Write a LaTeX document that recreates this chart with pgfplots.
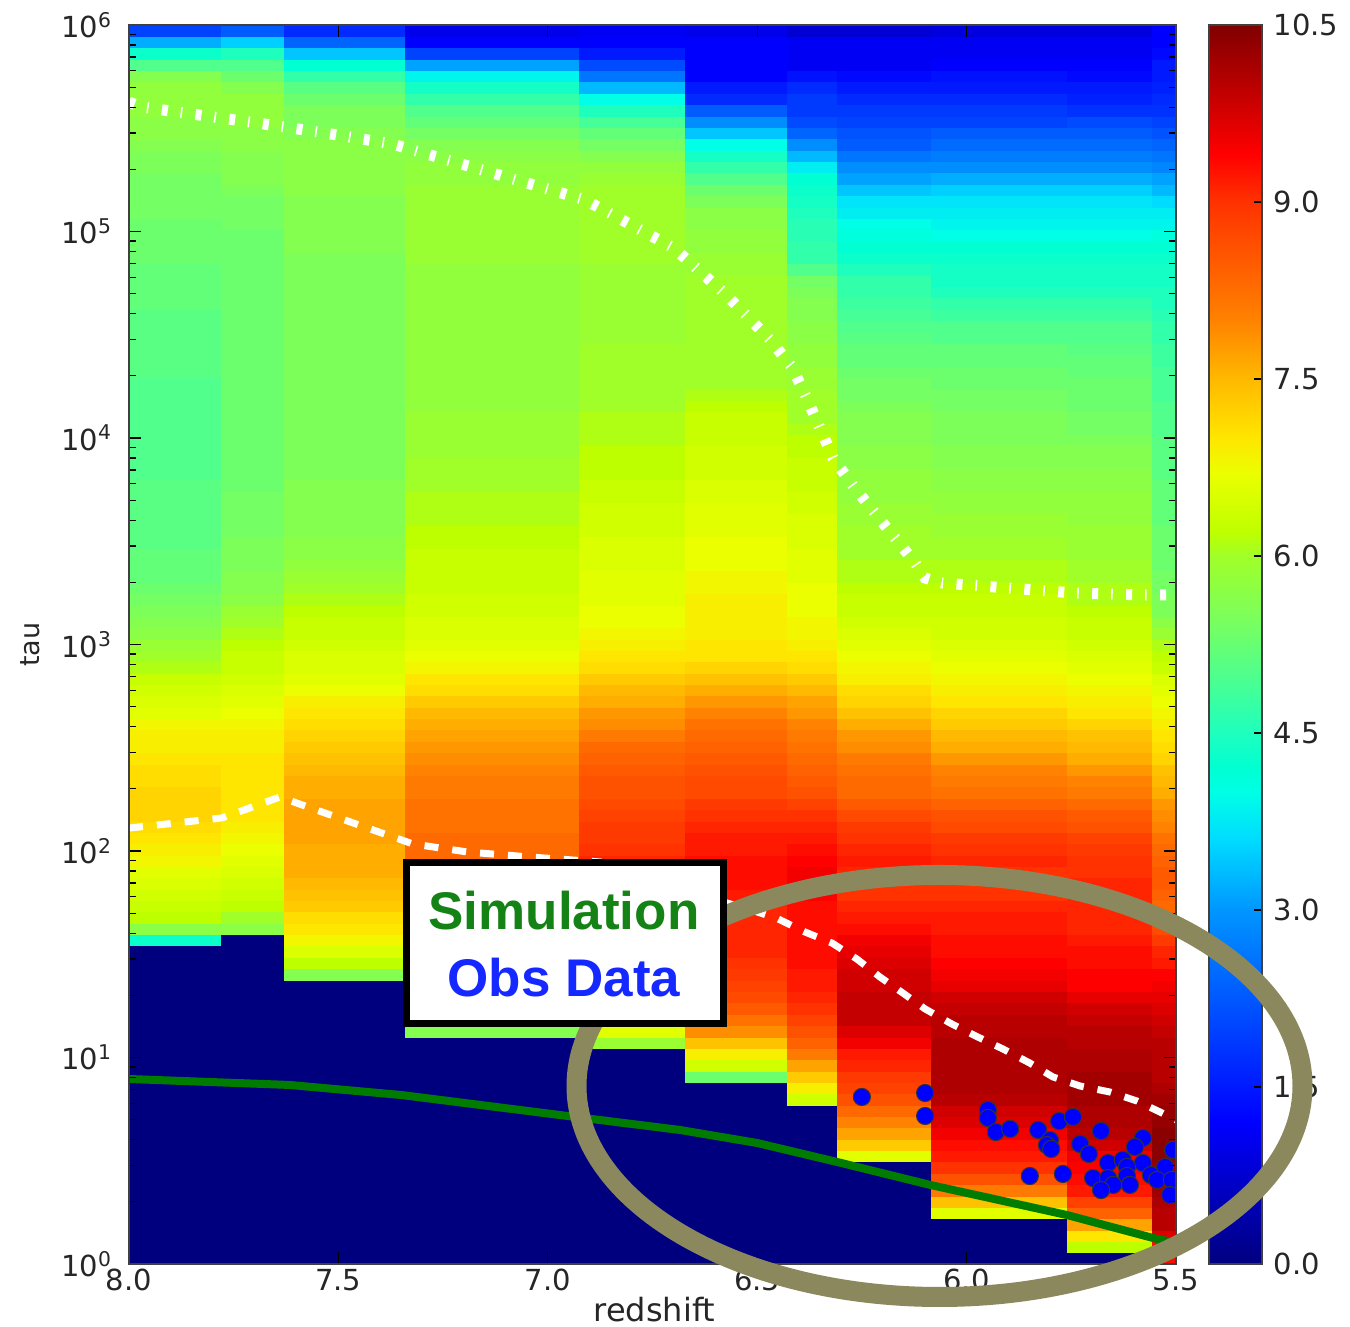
\documentclass[border=0pt]{standalone}
\usepackage{fontspec}
\setmainfont{DejaVu Sans}
\newfontfamily\boxfont{Liberation Sans}
\usepackage{pgfplots}
\usepackage{pgfplotstable}
\pgfplotsset{compat=1.18}
\definecolor{ringcol}{RGB}{138,136,92}
\definecolor{simcol}{RGB}{20,130,20}
\definecolor{obscol}{RGB}{20,40,255}
\pgfplotstableread{
ly c1 c2 c3 c4 c5 c6 c7 c8 c9 c10 c11
0.028 0 0 0 0 0 0 0 0 0 0 9.3
0.083 0 0 0 0 0 0 0 0 0 6.2 9.3
0.138 0 0 0 0 0 0 0 0 0 7.0 9.7
0.193 0 0 0 0 0 0 0 0 0 7.7 10.0
0.248 0 0 0 0 0 0 0 0 6.6 8.4 10.0
0.303 0 0 0 0 0 0 0 0 7.4 8.8 10.1
0.358 0 0 0 0 0 0 0 0 8.1 9.2 10.2
0.413 0 0 0 0 0 0 0 0 8.6 9.3 10.3
0.468 0 0 0 0 0 0 0 0 9.0 9.4 10.3
0.523 0 0 0 0 0 0 0 6.6 9.2 9.5 10.4
0.578 0 0 0 0 0 0 0 7.3 9.3 9.8 10.4
0.633 0 0 0 0 0 0 0 7.7 9.5 10.0 10.4
0.688 0 0 0 0 0 0 0 8.0 9.7 10.1 10.3
0.743 0 0 0 0 0 0 0 8.3 9.8 10.1 10.3
0.798 0 0 0 0 0 0 6.4 8.6 10.0 10.2 10.2
0.853 0 0 0 0 0 0 6.9 8.8 10.1 10.2 10.1
0.908 0 0 0 0 0 5.3 7.3 8.9 10.1 10.2 10.0
0.963 0 0 0 0 0 6.4 7.7 9.1 10.1 10.1 10.0
1.018 0 0 0 0 0 6.9 8.1 9.2 10.1 10.1 10.0
1.073 0 0 0 0 5.9 7.4 8.4 9.5 10.1 10.0 10.0
1.128 0 0 0 5.6 6.6 7.9 8.6 9.7 10.0 10.0 9.9
1.184 0 0 0 6.0 7.0 8.2 8.8 9.9 10.0 9.9 9.8
1.239 0 0 0 6.6 7.4 8.5 9.0 9.9 9.9 9.8 9.7
1.294 0 0 0 7.0 7.8 8.7 9.1 9.9 9.8 9.6 9.6
1.349 0 0 0 7.3 8.1 8.8 9.2 9.8 9.6 9.4 9.5
1.404 0 0 5.6 7.5 8.3 8.9 9.2 9.8 9.5 9.4 9.4
1.459 0 0 6.2 7.6 8.5 9.0 9.3 9.7 9.4 9.3 9.2
1.514 0 0 6.5 7.8 8.7 9.1 9.3 9.6 9.3 9.3 9.1
1.569 4.3 0 6.8 7.9 8.9 9.1 9.3 9.5 9.3 9.2 8.9
1.624 5.7 5.7 7.0 8.0 9.0 9.1 9.3 9.3 9.2 9.1 8.7
1.679 6.2 6.0 7.1 8.1 9.1 9.1 9.3 9.2 9.2 9.1 8.4
1.734 6.3 6.2 7.3 8.2 9.1 9.1 9.3 9.1 9.1 9.1 8.3
1.789 6.4 6.3 7.4 8.3 9.1 9.2 9.4 9.0 9.0 9.1 8.4
1.844 6.5 6.4 7.5 8.3 9.1 9.3 9.5 9.0 9.0 9.1 8.5
1.899 6.6 6.5 7.6 8.3 9.1 9.3 9.5 9.1 9.0 9.0 8.5
1.954 6.8 6.6 7.6 8.3 9.1 9.3 9.4 9.2 9.1 9.0 8.4
2.009 6.9 6.7 7.6 8.3 9.0 9.2 9.3 9.1 9.0 8.9 8.3
2.064 7.0 6.8 7.7 8.3 8.9 9.2 9.2 9.0 8.9 8.8 8.2
2.119 7.1 6.9 7.7 8.2 8.9 9.1 9.1 8.9 8.7 8.6 8.0
2.174 7.2 7.0 7.7 8.2 8.8 9.0 9.0 8.7 8.6 8.5 7.9
2.229 7.2 7.0 7.7 8.2 8.7 8.9 8.8 8.5 8.4 8.3 7.8
2.285 7.2 7.0 7.6 8.1 8.6 8.7 8.6 8.3 8.2 8.1 7.6
2.340 7.1 7.0 7.6 8.1 8.6 8.7 8.5 8.3 8.1 8.0 7.5
2.395 7.1 7.0 7.5 8.0 8.5 8.6 8.4 8.2 8.0 7.8 7.4
2.450 7.0 7.0 7.4 7.9 8.4 8.5 8.3 8.1 7.8 7.6 7.2
2.505 6.9 6.9 7.3 7.8 8.3 8.4 8.2 7.9 7.6 7.5 7.1
2.560 6.9 6.9 7.2 7.7 8.1 8.3 8.1 7.8 7.5 7.4 7.0
2.615 6.8 6.8 7.1 7.6 7.9 8.2 8.0 7.6 7.3 7.2 6.9
2.670 6.6 6.7 7.0 7.5 7.8 8.0 7.8 7.4 7.2 7.0 6.8
2.725 6.5 6.6 6.9 7.3 7.6 7.8 7.7 7.2 7.0 6.9 6.7
2.780 6.4 6.5 6.7 7.1 7.5 7.6 7.5 7.1 6.9 6.8 6.6
2.835 6.3 6.4 6.6 7.0 7.3 7.4 7.3 6.9 6.8 6.7 6.5
2.890 6.1 6.3 6.5 6.8 7.1 7.2 7.1 6.8 6.7 6.6 6.3
2.945 6.0 6.3 6.5 6.7 7.0 7.0 7.0 6.7 6.6 6.5 6.2
3.000 5.9 6.2 6.4 6.6 6.9 7.0 6.9 6.6 6.5 6.4 6.1
3.055 5.7 6.1 6.3 6.5 6.8 6.9 6.8 6.5 6.4 6.3 5.9
3.110 5.6 6.0 6.3 6.5 6.7 6.9 6.8 6.4 6.4 6.3 5.7
3.165 5.5 5.9 6.2 6.4 6.7 6.9 6.7 6.3 6.3 6.2 5.5
3.220 5.4 5.7 6.1 6.4 6.6 6.9 6.7 6.3 6.3 6.1 5.5
3.275 5.3 5.6 6.0 6.3 6.6 6.8 6.7 6.2 6.2 6.1 5.4
3.331 5.2 5.6 5.9 6.3 6.6 6.8 6.6 6.1 6.1 6.0 5.4
3.385 5.2 5.5 5.8 6.3 6.5 6.7 6.6 6.1 6.1 6.0 5.3
3.441 5.2 5.5 5.7 6.3 6.5 6.7 6.6 6.0 6.0 5.9 5.3
3.496 5.1 5.5 5.7 6.2 6.5 6.7 6.5 6.0 6.0 5.9 5.3
3.551 5.1 5.4 5.6 6.2 6.4 6.6 6.5 6.0 5.9 5.9 5.3
3.606 5.1 5.4 5.6 6.1 6.4 6.6 6.5 5.9 5.9 5.8 5.2
3.661 5.1 5.4 5.6 6.1 6.4 6.6 6.4 5.9 5.8 5.8 5.2
3.716 5.1 5.4 5.6 6.1 6.3 6.5 6.4 5.8 5.8 5.8 5.2
3.771 5.1 5.3 5.6 6.0 6.3 6.5 6.3 5.8 5.7 5.7 5.2
3.826 5.0 5.3 5.5 6.0 6.2 6.4 6.3 5.8 5.7 5.7 5.1
3.881 5.0 5.3 5.5 6.0 6.2 6.4 6.3 5.7 5.6 5.6 5.1
3.936 5.0 5.3 5.5 5.9 6.2 6.4 6.2 5.7 5.6 5.6 5.1
3.991 5.0 5.3 5.5 5.9 6.1 6.3 6.2 5.6 5.5 5.5 5.1
4.046 5.0 5.3 5.5 5.9 6.1 6.3 6.1 5.6 5.5 5.4 5.0
4.101 5.0 5.3 5.5 5.9 6.1 6.3 6.0 5.6 5.5 5.4 5.0
4.156 5.0 5.3 5.5 5.8 6.0 6.2 6.0 5.5 5.4 5.3 5.0
4.211 5.0 5.3 5.5 5.8 6.0 6.1 6.0 5.4 5.4 5.3 4.9
4.266 5.0 5.3 5.5 5.8 6.0 6.0 5.9 5.4 5.3 5.3 4.9
4.321 5.1 5.3 5.5 5.8 6.0 6.0 5.9 5.3 5.3 5.2 4.9
4.376 5.1 5.3 5.5 5.8 6.0 6.0 5.8 5.2 5.2 5.2 4.8
4.432 5.1 5.3 5.5 5.8 6.0 6.0 5.8 5.2 5.2 5.1 4.8
4.487 5.1 5.3 5.5 5.8 5.9 6.0 5.7 5.1 5.0 5.0 4.7
4.542 5.1 5.3 5.5 5.8 5.9 6.0 5.7 5.0 5.0 5.0 4.7
4.597 5.1 5.3 5.5 5.8 5.9 6.0 5.6 4.9 4.8 4.8 4.6
4.652 5.2 5.3 5.5 5.8 5.9 6.0 5.6 4.8 4.7 4.7 4.5
4.707 5.2 5.3 5.5 5.8 5.9 6.0 5.5 4.7 4.5 4.5 4.5
4.762 5.2 5.3 5.5 5.8 5.9 6.0 5.4 4.7 4.4 4.4 4.4
4.817 5.2 5.3 5.5 5.8 5.9 5.9 5.0 4.5 4.4 4.4 4.4
4.872 5.3 5.3 5.5 5.9 6.0 5.9 4.7 4.3 4.3 4.3 4.3
4.927 5.3 5.3 5.6 5.9 6.0 5.8 4.7 4.2 4.2 4.2 4.2
4.982 5.3 5.3 5.6 5.9 6.0 5.8 4.6 4.1 4.0 4.0 4.1
5.037 5.3 5.4 5.6 5.9 6.0 5.7 4.6 4.0 3.9 3.9 3.9
5.092 5.4 5.4 5.6 5.9 6.0 5.7 4.5 3.8 3.8 3.8 3.8
5.147 5.4 5.4 5.6 5.9 6.0 5.5 4.4 3.7 3.7 3.7 3.6
5.202 5.4 5.5 5.7 5.9 6.0 5.3 4.3 3.4 3.5 3.5 3.3
5.257 5.4 5.6 5.7 5.8 5.9 5.0 4.2 3.1 3.2 3.2 3.1
5.312 5.5 5.6 5.7 5.8 5.8 4.7 3.8 2.9 2.9 2.9 2.8
5.367 5.5 5.6 5.7 5.7 5.6 4.4 3.3 2.6 2.7 2.7 2.6
5.422 5.6 5.7 5.7 5.6 5.4 4.0 2.9 2.3 2.5 2.5 2.4
5.477 5.7 5.7 5.6 5.4 5.2 3.4 2.4 2.2 2.3 2.3 2.2
5.533 5.7 5.8 5.5 5.2 4.9 2.9 2.1 2.0 2.0 2.1 2.0
5.588 5.8 5.8 5.5 5.0 4.5 2.3 1.9 1.9 1.9 1.8 1.8
5.643 5.8 5.8 5.3 4.7 4.0 1.7 1.9 1.7 1.7 1.6 1.7
5.698 5.8 5.6 5.1 4.4 3.3 1.5 1.7 1.5 1.5 1.5 1.6
5.753 5.6 5.3 4.7 3.9 2.6 1.2 1.4 1.3 1.4 1.3 1.5
5.808 5.0 5.0 4.2 3.1 2.1 1.2 1.1 1.1 1.2 1.2 1.5
5.863 4.3 4.5 3.4 2.0 1.5 1.2 1.1 1.1 1.1 1.1 1.3
5.918 3.2 3.5 2.4 1.2 1.2 1.2 1.1 1.1 1.1 1.1 1.2
5.973 2.0 2.3 1.7 1.0 1.1 1.0 0.8 0.8 0.9 0.9 1.2
}\heat
\pgfplotstableread{
z ly
8.000 5.627
7.971 5.603
7.692 5.525
7.532 5.477
7.372 5.424
7.140 5.288
6.911 5.153
6.699 4.920
6.579 4.702
6.522 4.586
6.469 4.475
6.417 4.344
6.383 4.199
6.350 4.048
6.319 3.903
6.269 3.763
6.221 3.642
6.171 3.516
6.123 3.395
6.099 3.322
6.059 3.298
5.904 3.274
5.739 3.249
5.576 3.240
5.500 3.240
}\upperline
\pgfplotstableread{
z ly
8.000 2.111
7.778 2.160
7.639 2.262
7.599 2.232
7.451 2.126
7.322 2.034
7.191 1.995
7.043 1.971
6.875 1.947
6.756 1.884
6.637 1.787
6.500 1.705
6.450 1.671
6.386 1.608
6.321 1.554
6.262 1.477
6.207 1.390
6.152 1.312
6.099 1.235
6.035 1.162
5.973 1.099
5.913 1.041
5.849 0.973
5.794 0.906
5.729 0.862
5.658 0.833
5.593 0.789
5.533 0.731
5.500 0.697
}\lowerline
\pgfplotstableread{
z ly
8.000 0.896
7.616 0.867
7.348 0.818
6.954 0.717
6.684 0.649
6.500 0.586
6.309 0.494
6.087 0.383
5.760 0.237
5.555 0.126
5.500 0.102
}\greenline
\pgfplotstableread{
z ly
6.250 0.809
6.099 0.828
6.099 0.717
5.949 0.746
5.949 0.707
5.930 0.639
5.896 0.654
5.829 0.649
5.779 0.692
5.746 0.712
5.801 0.600
5.808 0.576
5.798 0.557
5.679 0.644
5.729 0.581
5.708 0.533
5.849 0.426
5.770 0.436
5.579 0.610
5.598 0.567
5.579 0.489
5.662 0.489
5.627 0.504
5.617 0.470
5.698 0.416
5.662 0.416
5.617 0.426
5.650 0.383
5.610 0.383
5.679 0.358
5.526 0.470
5.560 0.431
5.545 0.407
5.510 0.407
5.514 0.334
5.507 0.552
}\obsdata
\pgfplotsset{
  colormap={mpljet}{[1pt]
    rgb255(0pt)=(0,0,127) rgb255(12pt)=(0,0,255) rgb255(30pt)=(0,150,255)
    rgb255(36pt)=(0,220,255) rgb255(40pt)=(0,255,230) rgb255(42pt)=(0,255,210)
    rgb255(45pt)=(30,255,190) rgb255(50pt)=(80,255,140) rgb255(55pt)=(125,255,90)
    rgb255(60pt)=(160,255,40) rgb255(62pt)=(190,255,0) rgb255(67pt)=(235,255,0)
    rgb255(70pt)=(255,230,0) rgb255(75pt)=(255,185,0) rgb255(80pt)=(255,130,0)
    rgb255(90pt)=(255,50,0) rgb255(94pt)=(255,0,0) rgb255(96pt)=(232,0,0) rgb255(105pt)=(127,0,0)},
  cell/.style={scatter, only marks, mark=square*, mark size=2.842pt, scatter src=explicit,
    scatter/use mapped color={draw=mapped color, fill=mapped color, line width=0.25pt}},
}
\newcommand{\cellcol}[3]{\addplot[cell, mark options={xscale=#3}] table[x expr=#1, y expr=10^\thisrow{ly}, meta=#2]{\heat};}
\begin{document}
\begin{tikzpicture}
\path[use as bounding box] (0,0) rectangle (675pt,663.5pt);
\begin{axis}[
  at={(64.5pt,31.5pt)}, anchor=south west,
  scale only axis, width=523.5pt, height=619.5pt,
  x dir=reverse, xmin=5.5, xmax=8,
  ymode=log, ymin=1, ymax=1000000,
  axis on top,
  clip marker paths=true,
  colormap name=mpljet,
  point meta min=0, point meta max=10.5,
  xtick={5.5,6,6.5,7,7.5,8},
  ytick={1,10,100,1000,10000,100000,1000000},
  minor ytick={2,3,4,5,6,7,8,9,20,30,40,50,60,70,80,90,200,300,400,500,600,700,800,900,2000,3000,4000,5000,6000,7000,8000,9000,20000,30000,40000,50000,60000,70000,80000,90000,200000,300000,400000,500000,600000,700000,800000,900000},
  yticklabels={{10\textsuperscript{0}},{10\textsuperscript{1}},{10\textsuperscript{2}},{10\textsuperscript{3}},{10\textsuperscript{4}},{10\textsuperscript{5}},{10\textsuperscript{6}}},
  xticklabel style={/pgf/number format/assume math mode=true,/pgf/number format/fixed,/pgf/number format/fixed zerofill,/pgf/number format/precision=1},
  yticklabel style={xshift=-5pt},
  tick label style={font=\fontsize{14.5}{17}\selectfont, text=black!85},
  tick align=inside,
  major tick length=6pt, minor tick length=3.5pt,
  tick style={black, line width=0.6pt},
  axis line style={black!75, line width=0.9pt},
  xlabel={redshift}, ylabel={tau},
  xlabel style={at={(axis description cs:0.502,-0.0365)}, anchor=center, inner sep=0pt, font=\fontsize{16}{18}\selectfont, text=black!85},
  ylabel style={at={(axis description cs:-0.094,0.5)}, anchor=center, font=\fontsize{13.5}{16}\selectfont, text=black!85},
  xticklabel shift=-1pt,
  colorbar,
  colorbar/width=26.5pt,
  colorbar style={
    width=26.5pt,
    xshift=-7pt,
    ytick={0,1.5,3,4.5,6,7.5,9,10.5},
    minor ytick={},
    ytick pos=right,
    yticklabel style={/pgf/number format/assume math mode=true,/pgf/number format/fixed,/pgf/number format/fixed zerofill,/pgf/number format/precision=1,font=\fontsize{14.5}{17}\selectfont, text=black!85, xshift=2.5pt},
    tick align=inside,
    major tick length=4pt,
    axis line style={black!75, line width=0.9pt},
  },
]
\cellcol{7.890}{c1}{8.094}
\cellcol{7.705}{c2}{5.542}
\cellcol{7.4855}{c3}{10.645}
\cellcol{7.1335}{c4}{15.31}
\cellcol{6.799}{c5}{9.325}
\cellcol{6.5505}{c6}{8.973}
\cellcol{6.369}{c7}{4.399}
\cellcol{6.197}{c8}{8.27}
\cellcol{5.9225}{c9}{11.965}
\cellcol{5.6585}{c10}{7.478}
\cellcol{5.5285}{c11}{2.111}
\addplot[white, line width=5.5pt, dash pattern=on 3pt off 6.5pt on 0.8pt off 6.7pt, no marks] table[x=z, y expr=10^\thisrow{ly}]{\upperline};
\addplot[white, line width=3.5pt, dash pattern=on 7pt off 7pt, no marks] table[x=z, y expr=10^\thisrow{ly}]{\lowerline};
\addplot[color={rgb,255:red,0;green,125;blue,0}, line width=4pt, no marks] table[x=z, y expr=10^\thisrow{ly}]{\greenline};
\addplot[only marks, mark=*, mark size=4.3pt, mark options={fill={rgb,255:red,0;green,0;blue,255}, draw=black!80, line width=0.5pt}] table[x=z, y expr=10^\thisrow{ly}]{\obsdata};
\end{axis}
\draw[ringcol, line width=10pt] (469.75pt,120.5pt) ellipse [x radius=181.5pt, y radius=105.5pt];
\draw[black, line width=3.5pt, fill=white] (203.25pt,151.75pt) rectangle (361.75pt,232.25pt);
\node[text=simcol, font=\boxfont\bfseries\fontsize{26.5}{30}\selectfont] at (282pt,208pt) {Simulation};
\node[text=obscol, font=\boxfont\bfseries\fontsize{26.5}{30}\selectfont] at (282pt,174.5pt) {Obs Data};
\end{tikzpicture}
\end{document}
